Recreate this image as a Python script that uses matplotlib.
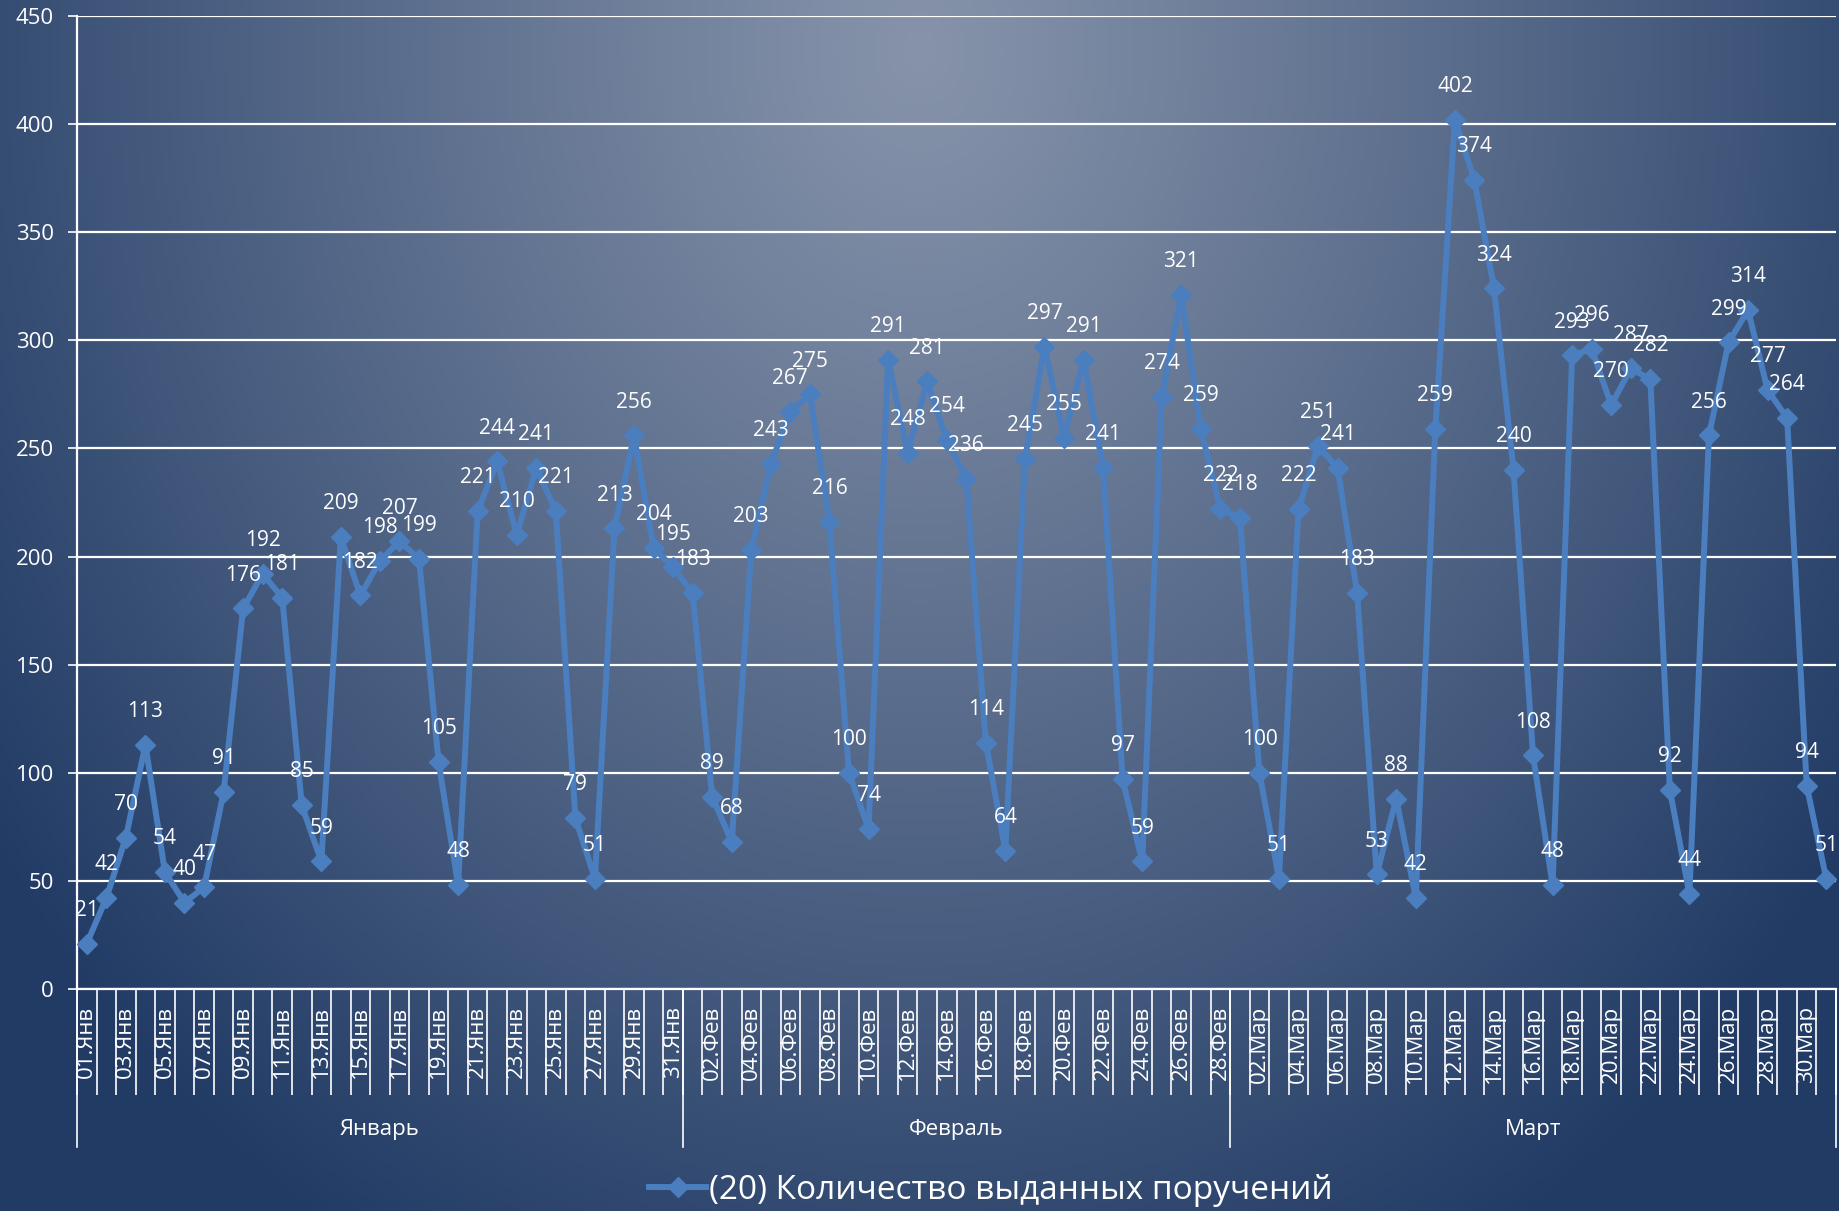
import numpy as np
import matplotlib
matplotlib.use("Agg")
import matplotlib.pyplot as plt
from matplotlib.lines import Line2D

plt.rcParams['font.family'] = ['Open Sans', 'DejaVu Sans']

# --- data -------------------------------------------------------------
months = ["Январь", "Февраль", "Март"]
month_abbr = ["Янв", "Фев", "Мар"]
month_days = [31, 28, 31]

jan = [21, 42, 70, 113, 54, 40, 47, 91, 176, 192, 181, 85, 59, 209, 182, 198,
       207, 199, 105, 48, 221, 244, 210, 241, 221, 79, 51, 213, 256, 204, 195]
feb = [183, 89, 68, 203, 243, 267, 275, 216, 100, 74, 291, 248, 281, 254, 236,
       114, 64, 245, 297, 255, 291, 241, 97, 59, 274, 321, 259, 222]
mar = [218, 100, 51, 222, 251, 241, 183, 53, 88, 42, 259, 402, 374, 324, 240,
       108, 48, 293, 296, 270, 287, 282, 92, 44, 256, 299, 314, 277, 264, 94, 51]
values = jan + feb + mar
series_name = "(20) Количество выданных поручений"

day_labels = []
for abbr, n in zip(month_abbr, month_days):
    day_labels += ["%02d.%s" % (d, abbr) for d in range(1, n + 1)]

line_color = "#4A7EBF"
W, H = 1839, 1211

fig = plt.figure(figsize=(W / 100, H / 100), dpi=100)

# background radial gradient
bg = fig.add_axes([0, 0, 1, 1], zorder=-10)
yy, xx = np.mgrid[0:1:300j, 0:1:450j]
d = np.sqrt(((xx - 0.5) / 0.62) ** 2 + ((yy - 0.04) / 1.15) ** 2)
d = np.clip(d, 0, 1) ** 1.1
c0 = np.array([134, 147, 170]) / 255.0
c1 = np.array([33, 59, 101]) / 255.0
img = c0[None, None, :] * (1 - d[..., None]) + c1[None, None, :] * d[..., None]
bg.imshow(img, extent=[0, 1, 0, 1], aspect='auto', origin='upper')
bg.set_axis_off()

ax = fig.add_axes([77 / W, 1 - 989 / H, (1836 - 77) / W, (989 - 16) / H])
ax.patch.set_alpha(0)

x = np.arange(len(values))
ax.plot(x, values, color=line_color, lw=4.3, marker='D', ms=10,
        mec=line_color, mfc=line_color, zorder=5, clip_on=False)

for xi, v in zip(x, values):
    ax.annotate(str(v), (xi, v), xytext=(0, 24), textcoords='offset points',
                ha='center', va='center', color='white', fontsize=15, zorder=6)

ax.set_xlim(-0.5, len(values) - 0.5)
ax.set_ylim(0, 450)
ax.set_yticks(np.arange(0, 451, 50))
ax.yaxis.grid(True, color='white', lw=1.6)
ax.set_axisbelow(True)
ax.tick_params(axis='y', colors='white', labelsize=16, length=6.5, width=1.2,
               pad=10)

for s in ['top', 'right']:
    ax.spines[s].set_visible(False)
for s in ['left', 'bottom']:
    ax.spines[s].set_color('white')
    ax.spines[s].set_linewidth(1.6)

# category boundaries as long ticks, labels every second day
ax.set_xticks(np.arange(-0.5, len(values), 1))
ax.set_xticklabels([])
ax.tick_params(axis='x', which='major', direction='out', length=76, width=1.2,
               color='white')
ax.set_xticks(x[::2], minor=True)
ax.set_xticklabels(day_labels[::2], minor=True, rotation=90, va='top',
                   ha='center', color='white', fontsize=16)
ax.tick_params(axis='x', which='minor', length=0, pad=12)

# month separators and names
tr = ax.get_xaxis_transform()
edges = np.concatenate([[0], np.cumsum(month_days)]) - 0.5
for b in edges:
    ax.plot([b, b], [0, -158 / 973], transform=tr, color='white', lw=1.2,
            clip_on=False)
for i, m in enumerate(months):
    ax.text((edges[i] + edges[i + 1]) / 2, -140 / 973, m, transform=tr,
            ha='center', va='center', color='white', fontsize=16)

handle = Line2D([], [], color=line_color, lw=4.3, marker='D', ms=10)
fig.legend([handle], [series_name], loc='center', bbox_to_anchor=(0.539, 0.017),
           frameon=False, fontsize=24, labelcolor='white', handlelength=1.7,
           handletextpad=0.1)

fig.savefig("out.png", dpi=100)
